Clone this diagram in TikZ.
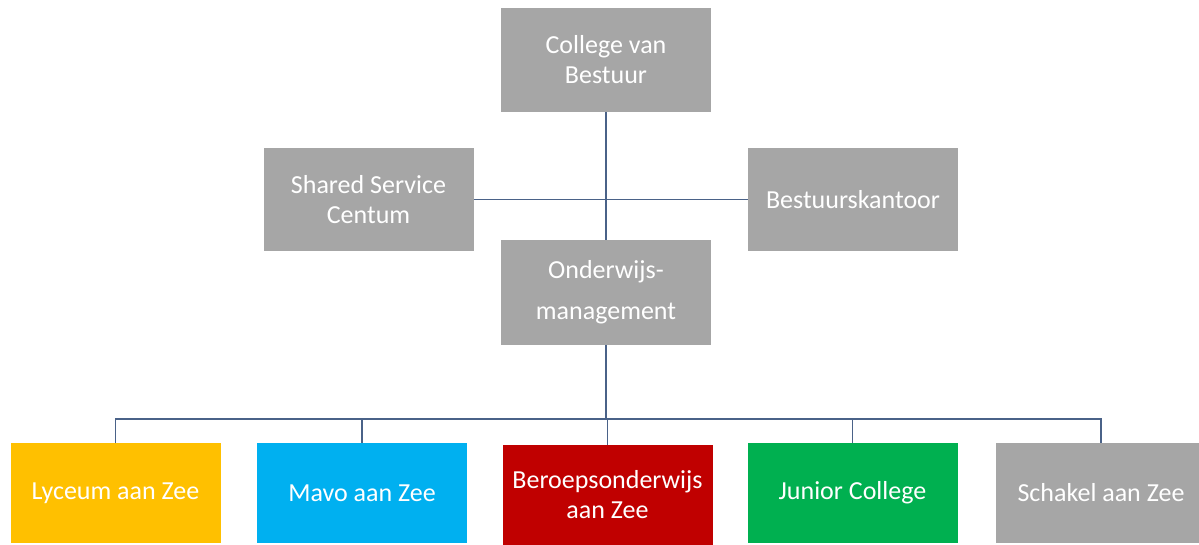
\documentclass[tikz,border=0pt]{standalone}
\usepackage{fontspec}
\setmainfont{Carlito}
\usetikzlibrary{positioning}
\definecolor{boxgrey}{HTML}{A6A6A6}
\definecolor{lyceumgold}{HTML}{FFC000}
\definecolor{mavoblue}{HTML}{00B0F0}
\definecolor{beroepsred}{HTML}{C00000}
\definecolor{juniorgreen}{HTML}{00B050}
\definecolor{linkblue}{HTML}{4A6288}
\tikzset{orgbox/.style={shape=rectangle, fill=boxgrey, text=white, align=center, inner sep=2pt,
    minimum width=210pt, minimum height=103pt, font=\fontsize{26}{30}\selectfont},
  link/.style={draw=linkblue, line width=1.5pt}}

\begin{document}
\begin{tikzpicture}[x=1pt, y=-1pt]
    \useasboundingbox (0,0) rectangle (1199,544);
    % top levels
    \node[orgbox, minimum height=104pt] (cvb) at (606,60) {College van\\Bestuur};
    \node[orgbox] (ssc) at (368.5,199.5) {Shared Service\\Centum};
    \node[orgbox] (bk) at (853,199.5) {Bestuurskantoor};
    \node[orgbox, minimum height=105pt] (om) at (606,292.5) {Onderwijs-\\[11pt]management};
    % schools
    \node[orgbox, minimum height=100pt, fill=lyceumgold] (lyc) at (115.5,493) {Lyceum aan Zee};
    \node[orgbox, minimum height=100pt, fill=mavoblue] (mavo) at (362,493) {Mavo aan Zee};
    \node[orgbox, minimum height=100pt, fill=beroepsred] (beroeps) at (607.5,495) {Beroepsonderwijs\\aan Zee};
    \node[orgbox, minimum height=100pt, fill=juniorgreen] (jc) at (852.5,493) {Junior College};
    \node[orgbox, minimum height=100pt] (schakel) at (1101,493) {Schakel aan Zee};
    \coordinate (bus) at (606,419);
    \draw[link] (cvb) -- (om);
    \draw[link] (ssc) -- (bk);
    \draw[link] (om) -- (bus);
    \foreach \school in {lyc, mavo, beroeps, jc, schakel}
      \draw[link] (bus) -| (\school);
\end{tikzpicture}
\end{document}
